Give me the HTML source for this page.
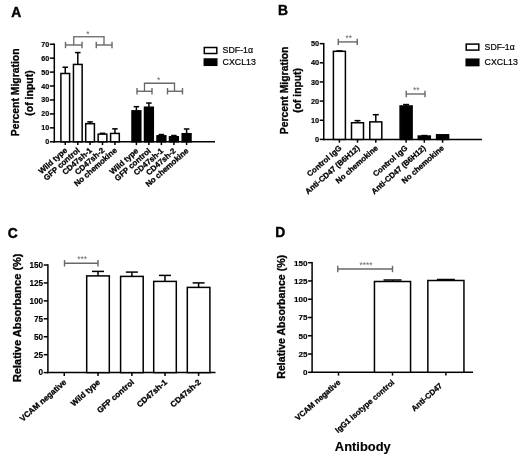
<!DOCTYPE html>
<html><head><meta charset="utf-8"><title>Figure</title>
<style>html,body{margin:0;padding:0;background:#fff}svg{display:block}</style></head>
<body><svg width="520" height="455" viewBox="0 0 520 455" font-family="'Liberation Sans', sans-serif">
<rect x="0" y="0" width="520" height="455" fill="#fff"/>
<text x="11.30" y="16.80" font-size="13.8" text-anchor="start" font-weight="bold" fill="#000" stroke="#000" stroke-width="0.4">A</text>
<line x1="54.30" y1="43.47" x2="54.30" y2="142.55" stroke="#000" stroke-width="1.5"/>
<line x1="53.55" y1="141.80" x2="215.00" y2="141.80" stroke="#000" stroke-width="1.5"/>
<line x1="49.80" y1="141.80" x2="54.30" y2="141.80" stroke="#000" stroke-width="1.5"/>
<text x="49.20" y="144.29" font-size="7.1" text-anchor="end" font-weight="bold" fill="#000" stroke="#000" stroke-width="0.15">0</text>
<line x1="49.80" y1="127.86" x2="54.30" y2="127.86" stroke="#000" stroke-width="1.5"/>
<text x="49.20" y="130.35" font-size="7.1" text-anchor="end" font-weight="bold" fill="#000" stroke="#000" stroke-width="0.15">10</text>
<line x1="49.80" y1="113.92" x2="54.30" y2="113.92" stroke="#000" stroke-width="1.5"/>
<text x="49.20" y="116.41" font-size="7.1" text-anchor="end" font-weight="bold" fill="#000" stroke="#000" stroke-width="0.15">20</text>
<line x1="49.80" y1="99.98" x2="54.30" y2="99.98" stroke="#000" stroke-width="1.5"/>
<text x="49.20" y="102.47" font-size="7.1" text-anchor="end" font-weight="bold" fill="#000" stroke="#000" stroke-width="0.15">30</text>
<line x1="49.80" y1="86.04" x2="54.30" y2="86.04" stroke="#000" stroke-width="1.5"/>
<text x="49.20" y="88.53" font-size="7.1" text-anchor="end" font-weight="bold" fill="#000" stroke="#000" stroke-width="0.15">40</text>
<line x1="49.80" y1="72.10" x2="54.30" y2="72.10" stroke="#000" stroke-width="1.5"/>
<text x="49.20" y="74.59" font-size="7.1" text-anchor="end" font-weight="bold" fill="#000" stroke="#000" stroke-width="0.15">50</text>
<line x1="49.80" y1="58.16" x2="54.30" y2="58.16" stroke="#000" stroke-width="1.5"/>
<text x="49.20" y="60.65" font-size="7.1" text-anchor="end" font-weight="bold" fill="#000" stroke="#000" stroke-width="0.15">60</text>
<line x1="49.80" y1="44.22" x2="54.30" y2="44.22" stroke="#000" stroke-width="1.5"/>
<text x="49.20" y="46.71" font-size="7.1" text-anchor="end" font-weight="bold" fill="#000" stroke="#000" stroke-width="0.15">70</text>
<line x1="65.25" y1="141.80" x2="65.25" y2="145.10" stroke="#000" stroke-width="1.5"/>
<line x1="77.80" y1="141.80" x2="77.80" y2="145.10" stroke="#000" stroke-width="1.5"/>
<line x1="90.05" y1="141.80" x2="90.05" y2="145.10" stroke="#000" stroke-width="1.5"/>
<line x1="102.50" y1="141.80" x2="102.50" y2="145.10" stroke="#000" stroke-width="1.5"/>
<line x1="114.95" y1="141.80" x2="114.95" y2="145.10" stroke="#000" stroke-width="1.5"/>
<line x1="136.40" y1="141.80" x2="136.40" y2="145.10" stroke="#000" stroke-width="1.5"/>
<line x1="148.90" y1="141.80" x2="148.90" y2="145.10" stroke="#000" stroke-width="1.5"/>
<line x1="161.40" y1="141.80" x2="161.40" y2="145.10" stroke="#000" stroke-width="1.5"/>
<line x1="173.90" y1="141.80" x2="173.90" y2="145.10" stroke="#000" stroke-width="1.5"/>
<line x1="186.60" y1="141.80" x2="186.60" y2="145.10" stroke="#000" stroke-width="1.5"/>
<line x1="65.25" y1="73.49" x2="65.25" y2="67.22" stroke="#000" stroke-width="1.5"/>
<line x1="62.50" y1="67.22" x2="68.00" y2="67.22" stroke="#000" stroke-width="1.5"/>
<rect x="60.90" y="73.49" width="8.70" height="68.31" fill="#fff" stroke="#000" stroke-width="1.5"/>
<line x1="77.80" y1="64.43" x2="77.80" y2="52.58" stroke="#000" stroke-width="1.5"/>
<line x1="75.05" y1="52.58" x2="80.55" y2="52.58" stroke="#000" stroke-width="1.5"/>
<rect x="73.45" y="64.43" width="8.70" height="77.37" fill="#fff" stroke="#000" stroke-width="1.5"/>
<line x1="90.05" y1="123.68" x2="90.05" y2="121.87" stroke="#000" stroke-width="1.5"/>
<line x1="87.30" y1="121.87" x2="92.80" y2="121.87" stroke="#000" stroke-width="1.5"/>
<rect x="85.70" y="123.68" width="8.70" height="18.12" fill="#fff" stroke="#000" stroke-width="1.5"/>
<line x1="102.50" y1="134.13" x2="102.50" y2="133.30" stroke="#000" stroke-width="1.5"/>
<line x1="99.75" y1="133.30" x2="105.25" y2="133.30" stroke="#000" stroke-width="1.5"/>
<rect x="98.15" y="134.13" width="8.70" height="7.67" fill="#fff" stroke="#000" stroke-width="1.5"/>
<line x1="114.95" y1="133.44" x2="114.95" y2="128.84" stroke="#000" stroke-width="1.5"/>
<line x1="112.20" y1="128.84" x2="117.70" y2="128.84" stroke="#000" stroke-width="1.5"/>
<rect x="110.60" y="133.44" width="8.70" height="8.36" fill="#fff" stroke="#000" stroke-width="1.5"/>
<line x1="136.40" y1="110.85" x2="136.40" y2="106.67" stroke="#000" stroke-width="1.5"/>
<line x1="133.65" y1="106.67" x2="139.15" y2="106.67" stroke="#000" stroke-width="1.5"/>
<rect x="132.00" y="110.85" width="8.80" height="30.95" fill="#000" stroke="#000" stroke-width="1.5"/>
<line x1="148.90" y1="107.23" x2="148.90" y2="103.05" stroke="#000" stroke-width="1.5"/>
<line x1="146.15" y1="103.05" x2="151.65" y2="103.05" stroke="#000" stroke-width="1.5"/>
<rect x="144.50" y="107.23" width="8.80" height="34.57" fill="#000" stroke="#000" stroke-width="1.5"/>
<line x1="161.40" y1="135.81" x2="161.40" y2="134.55" stroke="#000" stroke-width="1.5"/>
<line x1="158.65" y1="134.55" x2="164.15" y2="134.55" stroke="#000" stroke-width="1.5"/>
<rect x="157.00" y="135.81" width="8.80" height="5.99" fill="#000" stroke="#000" stroke-width="1.5"/>
<line x1="173.90" y1="136.78" x2="173.90" y2="135.53" stroke="#000" stroke-width="1.5"/>
<line x1="171.15" y1="135.53" x2="176.65" y2="135.53" stroke="#000" stroke-width="1.5"/>
<rect x="169.50" y="136.78" width="8.80" height="5.02" fill="#000" stroke="#000" stroke-width="1.5"/>
<line x1="186.60" y1="133.71" x2="186.60" y2="128.98" stroke="#000" stroke-width="1.5"/>
<line x1="183.85" y1="128.98" x2="189.35" y2="128.98" stroke="#000" stroke-width="1.5"/>
<rect x="182.20" y="133.71" width="8.80" height="8.09" fill="#000" stroke="#000" stroke-width="1.5"/>
<line x1="65.50" y1="45.00" x2="82.00" y2="45.00" stroke="#686868" stroke-width="1.4"/>
<line x1="65.50" y1="41.80" x2="65.50" y2="48.20" stroke="#686868" stroke-width="1.4"/>
<line x1="82.00" y1="41.80" x2="82.00" y2="48.20" stroke="#686868" stroke-width="1.4"/>
<line x1="96.25" y1="45.00" x2="112.00" y2="45.00" stroke="#686868" stroke-width="1.4"/>
<line x1="96.25" y1="41.80" x2="96.25" y2="48.20" stroke="#686868" stroke-width="1.4"/>
<line x1="112.00" y1="41.80" x2="112.00" y2="48.20" stroke="#686868" stroke-width="1.4"/>
<line x1="73.75" y1="45.00" x2="73.75" y2="36.75" stroke="#686868" stroke-width="1.3"/>
<line x1="73.10" y1="36.75" x2="104.65" y2="36.75" stroke="#686868" stroke-width="1.3"/>
<line x1="104.00" y1="36.75" x2="104.00" y2="45.00" stroke="#686868" stroke-width="1.3"/>
<text x="88.00" y="37.00" font-size="8.5" text-anchor="middle" fill="#686868">*</text>
<line x1="137.00" y1="91.25" x2="152.00" y2="91.25" stroke="#686868" stroke-width="1.4"/>
<line x1="137.00" y1="88.05" x2="137.00" y2="94.45" stroke="#686868" stroke-width="1.4"/>
<line x1="152.00" y1="88.05" x2="152.00" y2="94.45" stroke="#686868" stroke-width="1.4"/>
<line x1="167.50" y1="91.25" x2="182.50" y2="91.25" stroke="#686868" stroke-width="1.4"/>
<line x1="167.50" y1="88.05" x2="167.50" y2="94.45" stroke="#686868" stroke-width="1.4"/>
<line x1="182.50" y1="88.05" x2="182.50" y2="94.45" stroke="#686868" stroke-width="1.4"/>
<line x1="144.50" y1="91.25" x2="144.50" y2="83.25" stroke="#686868" stroke-width="1.3"/>
<line x1="143.85" y1="83.25" x2="175.15" y2="83.25" stroke="#686868" stroke-width="1.3"/>
<line x1="174.50" y1="83.25" x2="174.50" y2="91.25" stroke="#686868" stroke-width="1.3"/>
<text x="158.75" y="83.40" font-size="8.5" text-anchor="middle" fill="#686868">*</text>
<text x="67.75" y="151.20" font-size="7.9" text-anchor="end" font-weight="bold" transform="rotate(-41.3 67.75 151.20)" fill="#000" stroke="#000" stroke-width="0.3">Wild type</text>
<text x="80.30" y="151.20" font-size="7.9" text-anchor="end" font-weight="bold" transform="rotate(-41.3 80.30 151.20)" fill="#000" stroke="#000" stroke-width="0.3">GFP control</text>
<text x="92.55" y="151.20" font-size="7.9" text-anchor="end" font-weight="bold" transform="rotate(-41.3 92.55 151.20)" fill="#000" stroke="#000" stroke-width="0.3">CD47sh-1</text>
<text x="105.00" y="151.20" font-size="7.9" text-anchor="end" font-weight="bold" transform="rotate(-41.3 105.00 151.20)" fill="#000" stroke="#000" stroke-width="0.3">CD47sh-2</text>
<text x="117.45" y="151.20" font-size="7.9" text-anchor="end" font-weight="bold" transform="rotate(-41.3 117.45 151.20)" fill="#000" stroke="#000" stroke-width="0.3">No chemokine</text>
<text x="138.90" y="151.70" font-size="7.9" text-anchor="end" font-weight="bold" transform="rotate(-41.3 138.90 151.70)" fill="#000" stroke="#000" stroke-width="0.3">Wild type</text>
<text x="151.40" y="151.70" font-size="7.9" text-anchor="end" font-weight="bold" transform="rotate(-41.3 151.40 151.70)" fill="#000" stroke="#000" stroke-width="0.3">GFP control</text>
<text x="163.90" y="151.70" font-size="7.9" text-anchor="end" font-weight="bold" transform="rotate(-41.3 163.90 151.70)" fill="#000" stroke="#000" stroke-width="0.3">CD47sh-1</text>
<text x="176.40" y="151.70" font-size="7.9" text-anchor="end" font-weight="bold" transform="rotate(-41.3 176.40 151.70)" fill="#000" stroke="#000" stroke-width="0.3">CD47sh-2</text>
<text x="189.10" y="151.70" font-size="7.9" text-anchor="end" font-weight="bold" transform="rotate(-41.3 189.10 151.70)" fill="#000" stroke="#000" stroke-width="0.3">No chemokine</text>
<text x="19.40" y="92.40" font-size="10.4" text-anchor="middle" font-weight="bold" transform="rotate(-90 19.40 92.40)" fill="#000" stroke="#000" stroke-width="0.3">Percent Migration</text>
<text x="33.00" y="93.00" font-size="10.5" text-anchor="middle" font-weight="bold" transform="rotate(-90 33.00 93.00)" fill="#000" stroke="#000" stroke-width="0.3">(of input)</text>
<rect x="204.30" y="47.50" width="12.50" height="6.00" fill="#fff" stroke="#000" stroke-width="1.5"/>
<rect x="204.30" y="59.00" width="12.50" height="6.30" fill="#000" stroke="#000" stroke-width="1.5"/>
<text x="222.60" y="53.40" font-size="8.8" text-anchor="start" fill="#000" stroke="#000" stroke-width="0.2">SDF-1α</text>
<text x="222.60" y="65.10" font-size="8.8" text-anchor="start" fill="#000" stroke="#000" stroke-width="0.2">CXCL13</text>
<text x="278.00" y="15.20" font-size="13.8" text-anchor="start" font-weight="bold" fill="#000" stroke="#000" stroke-width="0.4">B</text>
<line x1="323.75" y1="42.90" x2="323.75" y2="140.15" stroke="#000" stroke-width="1.5"/>
<line x1="323.00" y1="139.40" x2="482.00" y2="139.40" stroke="#000" stroke-width="1.5"/>
<line x1="319.75" y1="139.40" x2="323.75" y2="139.40" stroke="#000" stroke-width="1.5"/>
<text x="319.15" y="141.96" font-size="7.3" text-anchor="end" font-weight="bold" fill="#000" stroke="#000" stroke-width="0.15">0</text>
<line x1="319.75" y1="120.25" x2="323.75" y2="120.25" stroke="#000" stroke-width="1.5"/>
<text x="319.15" y="122.81" font-size="7.3" text-anchor="end" font-weight="bold" fill="#000" stroke="#000" stroke-width="0.15">10</text>
<line x1="319.75" y1="101.10" x2="323.75" y2="101.10" stroke="#000" stroke-width="1.5"/>
<text x="319.15" y="103.66" font-size="7.3" text-anchor="end" font-weight="bold" fill="#000" stroke="#000" stroke-width="0.15">20</text>
<line x1="319.75" y1="81.95" x2="323.75" y2="81.95" stroke="#000" stroke-width="1.5"/>
<text x="319.15" y="84.50" font-size="7.3" text-anchor="end" font-weight="bold" fill="#000" stroke="#000" stroke-width="0.15">30</text>
<line x1="319.75" y1="62.80" x2="323.75" y2="62.80" stroke="#000" stroke-width="1.5"/>
<text x="319.15" y="65.36" font-size="7.3" text-anchor="end" font-weight="bold" fill="#000" stroke="#000" stroke-width="0.15">40</text>
<line x1="319.75" y1="43.65" x2="323.75" y2="43.65" stroke="#000" stroke-width="1.5"/>
<text x="319.15" y="46.21" font-size="7.3" text-anchor="end" font-weight="bold" fill="#000" stroke="#000" stroke-width="0.15">50</text>
<line x1="339.40" y1="139.40" x2="339.40" y2="142.70" stroke="#000" stroke-width="1.5"/>
<line x1="357.50" y1="139.40" x2="357.50" y2="142.70" stroke="#000" stroke-width="1.5"/>
<line x1="375.80" y1="139.40" x2="375.80" y2="142.70" stroke="#000" stroke-width="1.5"/>
<line x1="406.10" y1="139.40" x2="406.10" y2="142.70" stroke="#000" stroke-width="1.5"/>
<line x1="424.30" y1="139.40" x2="424.30" y2="142.70" stroke="#000" stroke-width="1.5"/>
<line x1="442.60" y1="139.40" x2="442.60" y2="142.70" stroke="#000" stroke-width="1.5"/>
<line x1="339.40" y1="51.31" x2="339.40" y2="50.93" stroke="#000" stroke-width="1.5"/>
<line x1="336.40" y1="50.93" x2="342.40" y2="50.93" stroke="#000" stroke-width="1.5"/>
<rect x="333.40" y="51.31" width="12.00" height="88.09" fill="#fff" stroke="#000" stroke-width="1.5"/>
<line x1="357.50" y1="122.74" x2="357.50" y2="120.63" stroke="#000" stroke-width="1.5"/>
<line x1="354.50" y1="120.63" x2="360.50" y2="120.63" stroke="#000" stroke-width="1.5"/>
<rect x="351.50" y="122.74" width="12.00" height="16.66" fill="#fff" stroke="#000" stroke-width="1.5"/>
<line x1="375.80" y1="121.88" x2="375.80" y2="114.70" stroke="#000" stroke-width="1.5"/>
<line x1="372.80" y1="114.70" x2="378.80" y2="114.70" stroke="#000" stroke-width="1.5"/>
<rect x="369.80" y="121.88" width="12.00" height="17.52" fill="#fff" stroke="#000" stroke-width="1.5"/>
<line x1="406.10" y1="105.98" x2="406.10" y2="104.55" stroke="#000" stroke-width="1.5"/>
<line x1="403.10" y1="104.55" x2="409.10" y2="104.55" stroke="#000" stroke-width="1.5"/>
<rect x="400.10" y="105.98" width="12.00" height="33.42" fill="#000" stroke="#000" stroke-width="1.5"/>
<line x1="424.30" y1="136.05" x2="424.30" y2="135.57" stroke="#000" stroke-width="1.5"/>
<line x1="421.30" y1="135.57" x2="427.30" y2="135.57" stroke="#000" stroke-width="1.5"/>
<rect x="418.30" y="136.05" width="12.00" height="3.35" fill="#000" stroke="#000" stroke-width="1.5"/>
<rect x="436.60" y="134.80" width="12.00" height="4.60" fill="#000" stroke="#000" stroke-width="1.5"/>
<line x1="338.25" y1="41.90" x2="357.25" y2="41.90" stroke="#686868" stroke-width="1.4"/>
<line x1="338.25" y1="38.70" x2="338.25" y2="45.10" stroke="#686868" stroke-width="1.4"/>
<line x1="357.25" y1="38.70" x2="357.25" y2="45.10" stroke="#686868" stroke-width="1.4"/>
<text x="348.80" y="41.00" font-size="8.5" text-anchor="middle" fill="#686868">**</text>
<line x1="406.25" y1="94.00" x2="425.00" y2="94.00" stroke="#686868" stroke-width="1.4"/>
<line x1="406.25" y1="90.80" x2="406.25" y2="97.20" stroke="#686868" stroke-width="1.4"/>
<line x1="425.00" y1="90.80" x2="425.00" y2="97.20" stroke="#686868" stroke-width="1.4"/>
<text x="416.30" y="93.10" font-size="8.5" text-anchor="middle" fill="#686868">**</text>
<text x="342.10" y="148.80" font-size="7.8" text-anchor="end" font-weight="bold" transform="rotate(-41.3 342.10 148.80)" fill="#000" stroke="#000" stroke-width="0.3">Control IgG</text>
<text x="360.20" y="148.80" font-size="7.8" text-anchor="end" font-weight="bold" transform="rotate(-41.3 360.20 148.80)" fill="#000" stroke="#000" stroke-width="0.3">Anti-CD47 (B6H12)</text>
<text x="378.50" y="148.80" font-size="7.8" text-anchor="end" font-weight="bold" transform="rotate(-41.3 378.50 148.80)" fill="#000" stroke="#000" stroke-width="0.3">No chemokine</text>
<text x="408.10" y="148.80" font-size="7.8" text-anchor="end" font-weight="bold" transform="rotate(-41.3 408.10 148.80)" fill="#000" stroke="#000" stroke-width="0.3">Control IgG</text>
<text x="426.30" y="148.80" font-size="7.8" text-anchor="end" font-weight="bold" transform="rotate(-41.3 426.30 148.80)" fill="#000" stroke="#000" stroke-width="0.3">Anti-CD47 (B6H12)</text>
<text x="444.60" y="148.80" font-size="7.8" text-anchor="end" font-weight="bold" transform="rotate(-41.3 444.60 148.80)" fill="#000" stroke="#000" stroke-width="0.3">No chemokine</text>
<text x="288.20" y="90.40" font-size="10.4" text-anchor="middle" font-weight="bold" transform="rotate(-90 288.20 90.40)" fill="#000" stroke="#000" stroke-width="0.3">Percent Migration</text>
<text x="300.90" y="90.40" font-size="10.3" text-anchor="middle" font-weight="bold" transform="rotate(-90 300.90 90.40)" fill="#000" stroke="#000" stroke-width="0.3">(of input)</text>
<rect x="466.20" y="44.10" width="12.60" height="6.00" fill="#fff" stroke="#000" stroke-width="1.5"/>
<rect x="466.20" y="59.20" width="12.60" height="6.40" fill="#000" stroke="#000" stroke-width="1.5"/>
<text x="484.60" y="50.20" font-size="8.7" text-anchor="start" fill="#000" stroke="#000" stroke-width="0.2">SDF-1α</text>
<text x="484.60" y="65.30" font-size="8.8" text-anchor="start" fill="#000" stroke="#000" stroke-width="0.2">CXCL13</text>
<text x="7.80" y="238.20" font-size="13.8" text-anchor="start" font-weight="bold" fill="#000" stroke="#000" stroke-width="0.4">C</text>
<line x1="47.90" y1="264.27" x2="47.90" y2="373.35" stroke="#000" stroke-width="1.5"/>
<line x1="47.15" y1="372.60" x2="215.50" y2="372.60" stroke="#000" stroke-width="1.5"/>
<line x1="43.70" y1="372.60" x2="47.90" y2="372.60" stroke="#000" stroke-width="1.5"/>
<text x="43.10" y="375.47" font-size="8.2" text-anchor="end" font-weight="bold" fill="#000" stroke="#000" stroke-width="0.15">0</text>
<line x1="43.70" y1="354.67" x2="47.90" y2="354.67" stroke="#000" stroke-width="1.5"/>
<text x="43.10" y="357.54" font-size="8.2" text-anchor="end" font-weight="bold" fill="#000" stroke="#000" stroke-width="0.15">25</text>
<line x1="43.70" y1="336.74" x2="47.90" y2="336.74" stroke="#000" stroke-width="1.5"/>
<text x="43.10" y="339.61" font-size="8.2" text-anchor="end" font-weight="bold" fill="#000" stroke="#000" stroke-width="0.15">50</text>
<line x1="43.70" y1="318.81" x2="47.90" y2="318.81" stroke="#000" stroke-width="1.5"/>
<text x="43.10" y="321.68" font-size="8.2" text-anchor="end" font-weight="bold" fill="#000" stroke="#000" stroke-width="0.15">75</text>
<line x1="43.70" y1="300.88" x2="47.90" y2="300.88" stroke="#000" stroke-width="1.5"/>
<text x="43.10" y="303.75" font-size="8.2" text-anchor="end" font-weight="bold" fill="#000" stroke="#000" stroke-width="0.15">100</text>
<line x1="43.70" y1="282.95" x2="47.90" y2="282.95" stroke="#000" stroke-width="1.5"/>
<text x="43.10" y="285.82" font-size="8.2" text-anchor="end" font-weight="bold" fill="#000" stroke="#000" stroke-width="0.15">125</text>
<line x1="43.70" y1="265.02" x2="47.90" y2="265.02" stroke="#000" stroke-width="1.5"/>
<text x="43.10" y="267.89" font-size="8.2" text-anchor="end" font-weight="bold" fill="#000" stroke="#000" stroke-width="0.15">150</text>
<line x1="64.25" y1="372.60" x2="64.25" y2="375.90" stroke="#000" stroke-width="1.5"/>
<line x1="98.00" y1="372.60" x2="98.00" y2="375.90" stroke="#000" stroke-width="1.5"/>
<line x1="131.90" y1="372.60" x2="131.90" y2="375.90" stroke="#000" stroke-width="1.5"/>
<line x1="165.00" y1="372.60" x2="165.00" y2="375.90" stroke="#000" stroke-width="1.5"/>
<line x1="198.60" y1="372.60" x2="198.60" y2="375.90" stroke="#000" stroke-width="1.5"/>
<line x1="98.00" y1="275.90" x2="98.00" y2="271.40" stroke="#000" stroke-width="1.5"/>
<line x1="92.00" y1="271.40" x2="104.00" y2="271.40" stroke="#000" stroke-width="1.5"/>
<rect x="86.70" y="275.90" width="22.60" height="96.70" fill="#fff" stroke="#000" stroke-width="1.5"/>
<line x1="131.90" y1="276.40" x2="131.90" y2="272.10" stroke="#000" stroke-width="1.5"/>
<line x1="125.90" y1="272.10" x2="137.90" y2="272.10" stroke="#000" stroke-width="1.5"/>
<rect x="120.60" y="276.40" width="22.60" height="96.20" fill="#fff" stroke="#000" stroke-width="1.5"/>
<line x1="165.00" y1="281.40" x2="165.00" y2="275.40" stroke="#000" stroke-width="1.5"/>
<line x1="159.00" y1="275.40" x2="171.00" y2="275.40" stroke="#000" stroke-width="1.5"/>
<rect x="153.70" y="281.40" width="22.60" height="91.20" fill="#fff" stroke="#000" stroke-width="1.5"/>
<line x1="198.60" y1="287.40" x2="198.60" y2="282.90" stroke="#000" stroke-width="1.5"/>
<line x1="192.60" y1="282.90" x2="204.60" y2="282.90" stroke="#000" stroke-width="1.5"/>
<rect x="187.30" y="287.40" width="22.60" height="85.20" fill="#fff" stroke="#000" stroke-width="1.5"/>
<line x1="64.50" y1="263.30" x2="98.00" y2="263.30" stroke="#686868" stroke-width="1.4"/>
<line x1="64.50" y1="260.10" x2="64.50" y2="266.50" stroke="#686868" stroke-width="1.4"/>
<line x1="98.00" y1="260.10" x2="98.00" y2="266.50" stroke="#686868" stroke-width="1.4"/>
<text x="82.20" y="262.40" font-size="8.5" text-anchor="middle" fill="#686868">***</text>
<text x="66.95" y="383.00" font-size="8.1" text-anchor="end" font-weight="bold" transform="rotate(-41.3 66.95 383.00)" fill="#000" stroke="#000" stroke-width="0.3">VCAM negative</text>
<text x="100.70" y="383.00" font-size="8.1" text-anchor="end" font-weight="bold" transform="rotate(-41.3 100.70 383.00)" fill="#000" stroke="#000" stroke-width="0.3">Wild type</text>
<text x="134.60" y="383.00" font-size="8.1" text-anchor="end" font-weight="bold" transform="rotate(-41.3 134.60 383.00)" fill="#000" stroke="#000" stroke-width="0.3">GFP control</text>
<text x="167.70" y="383.00" font-size="8.1" text-anchor="end" font-weight="bold" transform="rotate(-41.3 167.70 383.00)" fill="#000" stroke="#000" stroke-width="0.3">CD47sh-1</text>
<text x="201.30" y="383.00" font-size="8.1" text-anchor="end" font-weight="bold" transform="rotate(-41.3 201.30 383.00)" fill="#000" stroke="#000" stroke-width="0.3">CD47sh-2</text>
<text x="21.00" y="317.80" font-size="11" text-anchor="middle" font-weight="bold" transform="rotate(-90 21.00 317.80)" fill="#000" stroke="#000" stroke-width="0.3">Relative Absorbance (%)</text>
<text x="275.30" y="236.70" font-size="13.8" text-anchor="start" font-weight="bold" fill="#000" stroke="#000" stroke-width="0.4">D</text>
<line x1="312.10" y1="261.93" x2="312.10" y2="373.05" stroke="#000" stroke-width="1.5"/>
<line x1="311.35" y1="372.30" x2="473.00" y2="372.30" stroke="#000" stroke-width="1.5"/>
<line x1="308.10" y1="372.30" x2="312.10" y2="372.30" stroke="#000" stroke-width="1.5"/>
<text x="307.50" y="375.13" font-size="8.1" text-anchor="end" font-weight="bold" fill="#000" stroke="#000" stroke-width="0.15">0</text>
<line x1="308.10" y1="354.03" x2="312.10" y2="354.03" stroke="#000" stroke-width="1.5"/>
<text x="307.50" y="356.87" font-size="8.1" text-anchor="end" font-weight="bold" fill="#000" stroke="#000" stroke-width="0.15">25</text>
<line x1="308.10" y1="335.76" x2="312.10" y2="335.76" stroke="#000" stroke-width="1.5"/>
<text x="307.50" y="338.59" font-size="8.1" text-anchor="end" font-weight="bold" fill="#000" stroke="#000" stroke-width="0.15">50</text>
<line x1="308.10" y1="317.49" x2="312.10" y2="317.49" stroke="#000" stroke-width="1.5"/>
<text x="307.50" y="320.32" font-size="8.1" text-anchor="end" font-weight="bold" fill="#000" stroke="#000" stroke-width="0.15">75</text>
<line x1="308.10" y1="299.22" x2="312.10" y2="299.22" stroke="#000" stroke-width="1.5"/>
<text x="307.50" y="302.06" font-size="8.1" text-anchor="end" font-weight="bold" fill="#000" stroke="#000" stroke-width="0.15">100</text>
<line x1="308.10" y1="280.95" x2="312.10" y2="280.95" stroke="#000" stroke-width="1.5"/>
<text x="307.50" y="283.79" font-size="8.1" text-anchor="end" font-weight="bold" fill="#000" stroke="#000" stroke-width="0.15">125</text>
<line x1="308.10" y1="262.68" x2="312.10" y2="262.68" stroke="#000" stroke-width="1.5"/>
<text x="307.50" y="265.51" font-size="8.1" text-anchor="end" font-weight="bold" fill="#000" stroke="#000" stroke-width="0.15">150</text>
<line x1="338.50" y1="372.30" x2="338.50" y2="375.60" stroke="#000" stroke-width="1.5"/>
<line x1="392.50" y1="372.30" x2="392.50" y2="375.60" stroke="#000" stroke-width="1.5"/>
<line x1="445.90" y1="372.30" x2="445.90" y2="375.60" stroke="#000" stroke-width="1.5"/>
<line x1="392.50" y1="281.50" x2="392.50" y2="280.00" stroke="#000" stroke-width="1.5"/>
<line x1="383.50" y1="280.00" x2="401.50" y2="280.00" stroke="#000" stroke-width="1.5"/>
<rect x="374.45" y="281.50" width="36.10" height="90.80" fill="#fff" stroke="#000" stroke-width="1.5"/>
<line x1="445.90" y1="280.50" x2="445.90" y2="279.50" stroke="#000" stroke-width="1.5"/>
<line x1="436.90" y1="279.50" x2="454.90" y2="279.50" stroke="#000" stroke-width="1.5"/>
<rect x="427.85" y="280.50" width="36.10" height="91.80" fill="#fff" stroke="#000" stroke-width="1.5"/>
<line x1="337.75" y1="269.00" x2="392.50" y2="269.00" stroke="#686868" stroke-width="1.4"/>
<line x1="337.75" y1="265.80" x2="337.75" y2="272.20" stroke="#686868" stroke-width="1.4"/>
<line x1="392.50" y1="265.80" x2="392.50" y2="272.20" stroke="#686868" stroke-width="1.4"/>
<text x="366.00" y="268.20" font-size="8.5" text-anchor="middle" fill="#686868">****</text>
<text x="341.00" y="383.20" font-size="7.85" text-anchor="end" font-weight="bold" transform="rotate(-41.3 341.00 383.20)" fill="#000" stroke="#000" stroke-width="0.3">VCAM negative</text>
<text x="395.00" y="383.20" font-size="7.85" text-anchor="end" font-weight="bold" transform="rotate(-41.3 395.00 383.20)" fill="#000" stroke="#000" stroke-width="0.3">IgG1 isotype control</text>
<text x="442.80" y="386.60" font-size="7.85" text-anchor="end" font-weight="bold" transform="rotate(-41.3 442.80 386.60)" fill="#000" stroke="#000" stroke-width="0.3">Anti-CD47</text>
<text x="284.90" y="316.80" font-size="10.6" text-anchor="middle" font-weight="bold" transform="rotate(-90 284.90 316.80)" fill="#000" stroke="#000" stroke-width="0.3">Relative Absorbance (%)</text>
<text x="362.80" y="450.60" font-size="12.9" text-anchor="middle" font-weight="bold" fill="#000" stroke="#000" stroke-width="0.15">Antibody</text>
</svg></body></html>
